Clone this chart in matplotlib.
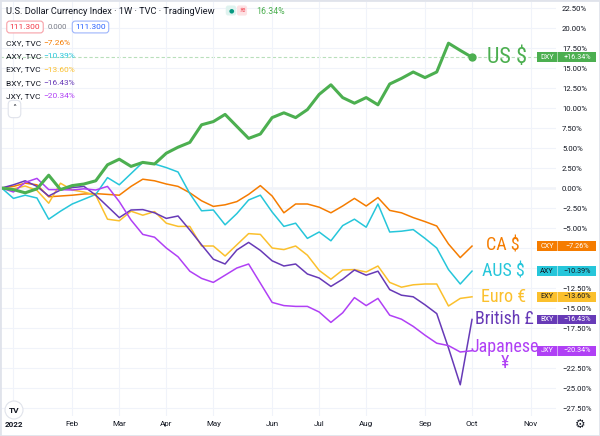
import matplotlib
matplotlib.use("Agg")
import matplotlib.pyplot as plt
import matplotlib.transforms as mtransforms
from matplotlib.patches import Rectangle, Ellipse
import numpy as np
import pandas as pd

W, H = 600, 436

# weekly closes, % change since the first bar
dates = pd.date_range("2021-12-27", periods=41, freq="W-MON")

dxy = [0, -0.2, -0.6, -0.1, 1.6, -0.2, 0.3, 0.5, 0.9, 2.9, 3.6, 2.7, 3.2, 3.0,
       4.35, 5.1, 5.7, 7.9, 8.3, 9.2, 7.7, 6.2, 6.75, 8.8, 9.4, 8.8, 9.8, 11.7,
       12.9, 11.3, 10.6, 11.3, 10.4, 13.0, 13.7, 14.5, 13.8, 14.5, 18.1, 17.2, 16.34]
cxy = [0, 0.2, 0.6, 0.4, -1.1, -1.0, -0.9, -0.75, -0.7, -0.8, -0.9, 0.2, 1.1, 0.9,
       0.5, 0.2, -0.6, -1.6, -2.3, -2.1, -1.7, -0.8, 0.3, -1.0, -3.1, -2.0, -2.0,
       -2.4, -3.1, -2.25, -1.3, -2.25, -1.2, -2.8, -3.1, -3.7, -4.2, -4.75, -7.0,
       -8.7, -7.26]
axy = [0, -1.3, -0.9, -1.25, -3.9, -2.9, -2.0, -1.4, -0.8, 1.3, 0.4, 1.8, 3.2, 3.0,
       2.55, 2.0, -0.7, -2.85, -2.75, -4.6, -3.2, -1.5, -0.9, -3.0, -4.8, -4.4, -6.3,
       -5.5, -6.6, -4.7, -3.9, -4.9, -2.0, -5.5, -5.4, -5.2, -6.3, -7.5, -10.2,
       -12.0, -10.39]
exy = [0, -0.1, 0.25, -0.3, -1.9, 0.6, -0.25, -0.5, -0.9, -3.9, -4.1, -2.9, -3.4,
       -2.95, -4.4, -4.8, -4.8, -7.25, -7.25, -8.5, -7.1, -5.7, -5.8, -7.5, -7.7,
       -7.25, -8.4, -10.3, -11.4, -10.25, -10.2, -10.5, -9.75, -11.8, -12.4, -12.1,
       -12.0, -12.0, -14.75, -13.8, -13.6]
bxy = [0, 0.4, 0.9, 0.2, -1.0, -0.25, 0.05, 0.2, -0.9, -2.3, -3.7, -2.75, -2.7,
       -3.1, -3.8, -3.5, -5.25, -7.1, -8.9, -9.5, -7.75, -6.8, -7.8, -9.1, -9.75,
       -9.5, -10.75, -11.25, -12.3, -11.4, -10.25, -10.9, -10.4, -12.7, -13.4,
       -13.6, -14.6, -15.7, -20.0, -24.6, -16.43]
jxy = [0, -0.5, 0.7, 1.2, -0.2, -0.2, -0.25, -0.1, -0.25, 0.2, -1.7, -4.0, -5.8,
       -6.15, -7.5, -8.6, -10.4, -11.3, -11.8, -10.9, -10.0, -9.5, -11.9, -14.3,
       -14.7, -14.8, -14.8, -15.5, -16.8, -15.6, -13.7, -14.7, -13.8, -15.9, -16.4,
       -17.3, -18.4, -19.4, -19.7, -20.5, -20.34]

month_dates = pd.to_datetime(["2022-01-03", "2022-02-07", "2022-03-07", "2022-04-04",
                              "2022-05-02", "2022-06-06", "2022-07-04", "2022-08-01",
                              "2022-09-05", "2022-10-03", "2022-11-07"])
month_labels = ["2022", "Feb", "Mar", "Apr", "May", "Jun", "Jul", "Aug", "Sep", "Oct", "Nov"]
pct_ticks = np.arange(-27.5, 22.6, 2.5)
hidden_ticks = [-7.5, -10.0, -20.0]   # covered by the value badges

# symbol, values, colour, label, badge text colour
series = [
    ("CXY", cxy, "#f57c00", "CA $", "white"),
    ("AXY", axy, "#26c6da", "AUS $", "#131722"),
    ("EXY", exy, "#fbc02d", "Euro €", "#131722"),
    ("BXY", bxy, "#673ab7", "British £", "white"),
    ("JXY", jxy, "#b040f5", "Japanese\n¥", "white"),
]
green = "#4caf50"

plt.rcParams["font.family"] = ["Roboto", "DejaVu Sans"]


def fx(px):
    return px / W


def fy(py):
    return 1 - py / H


def pct(v, fmt="{:.2f}%"):
    return fmt.format(v).replace("-", "\u2212")


fig = plt.figure(figsize=(W / 100, H / 100), dpi=100, facecolor="white")
ax = fig.add_axes([0, fy(416), fx(556), (416 - 2) / H])
ax.set_facecolor("white")

ax.set_xlim(dates[0] - pd.Timedelta(days=1), dates[0] + pd.Timedelta(days=330))
ax.set_ylim(-28.5, 23.25)

ax.set_xticks(month_dates)
ax.set_xticklabels(month_labels)
ax.get_xticklabels()[0].set_fontweight("bold")
ax.set_yticks(pct_ticks)
ax.set_yticklabels(["" if any(abs(v - h) < 0.01 for h in hidden_ticks) else pct(v)
                    for v in pct_ticks])
ax.yaxis.tick_right()
ax.tick_params(axis="y", length=0, pad=4.3, labelsize=5.6, labelcolor="#131722")
ax.tick_params(axis="x", length=0, pad=3.5, labelsize=5.8, labelcolor="#131722")
ax.grid(True, color="#f0f3fa", lw=0.8)
for s in ax.spines.values():
    s.set_visible(False)

ax.axhline(0, color="#d1d4dc", lw=1, zorder=1)
ax.axhline(dxy[-1], color="#b9dfbb", lw=0.8, ls=(0, (3, 2)), zorder=1)

for sym, vals, col, lab, tcol in series:
    ax.plot(dates, vals, color=col, lw=1.1, zorder=3)
ax.plot(dates, dxy, color=green, lw=2.2, zorder=4, solid_joinstyle="round")
ax.plot(dates[-1], dxy[-1], "o", color=green, ms=5, zorder=5)

lab_font = ["Liberation Sans Narrow", "Roboto Condensed", "DejaVu Sans"]
ax.annotate("US $", xy=(dates[-1], dxy[-1]), xytext=(25.5, 0), textcoords="offset points",
            ha="center", va="center", fontsize=16, color=green, family=lab_font)
offsets = {"CXY": (22, 0.5), "AXY": (22.5, 0), "EXY": (22.5, 0), "BXY": (23, 0),
           "JXY": (23.5, -2.8)}
for sym, vals, col, lab, tcol in series:
    ax.annotate(lab, xy=(dates[-1], vals[-1]), xytext=offsets[sym],
                textcoords="offset points", ha="center", va="center", fontsize=13,
                color=col, family=lab_font, linespacing=0.85)

# value badges on the price scale
btrans = mtransforms.blended_transform_factory(fig.transFigure, ax.transData)
badges = [("DXY", dxy[-1], green, "white")] + [(s, v[-1], c, t) for s, v, c, _, t in series]
for sym, v, col, tcol in badges:
    ax.add_patch(Rectangle((fx(537), v - 0.6), fx(59), 1.2, transform=btrans,
                           facecolor=col, edgecolor="none", clip_on=False, zorder=10))
    ax.plot([fx(557), fx(557)], [v - 0.6, v + 0.6], transform=btrans, color="white",
            lw=0.6, alpha=0.6, clip_on=False, zorder=11)
    ax.text(fx(547), v, sym, transform=btrans, ha="center", va="center", fontsize=5.2,
            color=tcol, zorder=12, clip_on=False)
    ax.text(fx(577), v, pct(v, "{:+.2f}%"), transform=btrans,
            ha="center", va="center", fontsize=5.2, color=tcol, zorder=12, clip_on=False)

# header legend
fig.text(fx(6), fy(11), "U.S. Dollar Currency Index \u00b7 1W \u00b7 TVC \u00b7 TradingView",
         fontsize=6.7, color="#131722", va="center")
fig.text(fx(231), fy(10.5), "\u25cf", fontsize=4.5, color="#089981", ha="center", va="center",
         family="DejaVu Sans", bbox=dict(boxstyle="round,pad=0.4", fc="#dff3ef", ec="none"))
fig.text(fx(242), fy(10.5), "\u224b", fontsize=5, color="#f23645", ha="center", va="center",
         family="DejaVu Sans", bbox=dict(boxstyle="round,pad=0.3", fc="#fde2e4", ec="none"))
fig.text(fx(256), fy(11), "16.34%", fontsize=6.3, color=green, va="center")

fig.text(fx(25), fy(27), "111.300", fontsize=6, color="#f23645", ha="center", va="center",
         bbox=dict(boxstyle="round,pad=0.35", fc="white", ec="#f7a1a8", lw=0.8))
fig.text(fx(57.5), fy(27), "0.000", fontsize=5.6, color="#787b86", ha="center", va="center")
fig.text(fx(90.5), fy(27), "111.300", fontsize=6, color="#2962ff", ha="center", va="center",
         bbox=dict(boxstyle="round,pad=0.35", fc="white", ec="#9db5fb", lw=0.8))

row_y = [43, 56, 69.5, 83, 96.5]
for (sym, vals, col, lab, tcol), yy in zip(series, row_y):
    fig.text(fx(6), fy(yy), f"{sym}, TVC", fontsize=6, color="#131722", va="center")
    fig.text(fx(43.5), fy(yy), pct(vals[-1]), fontsize=6, color=col, va="center")

fig.text(fx(14.5), fy(109), "\u02c4", fontsize=6, color="#131722", ha="center", va="center",
         family="DejaVu Sans", bbox=dict(boxstyle="round,pad=0.5", fc="white", ec="#e0e3eb", lw=0.8))

# logo and settings icon
fig.add_artist(Ellipse((fx(14), fy(410)), 18 / W, 18 / H, transform=fig.transFigure,
                       facecolor="white", edgecolor="#e0e3eb", lw=0.8))
fig.text(fx(14), fy(410), "TV", fontsize=6, fontweight="bold", color="#131722",
         ha="center", va="center")
fig.text(fx(580), fy(424), "\u2699", fontsize=8.5, color="#131722", ha="center", va="center",
         family="DejaVu Sans")

fig.add_artist(Rectangle((0, 0), 1, 1, transform=fig.transFigure, fill=False,
                         edgecolor="#e0e3eb", lw=2))

fig.savefig("out.png", dpi=100, facecolor="white")
